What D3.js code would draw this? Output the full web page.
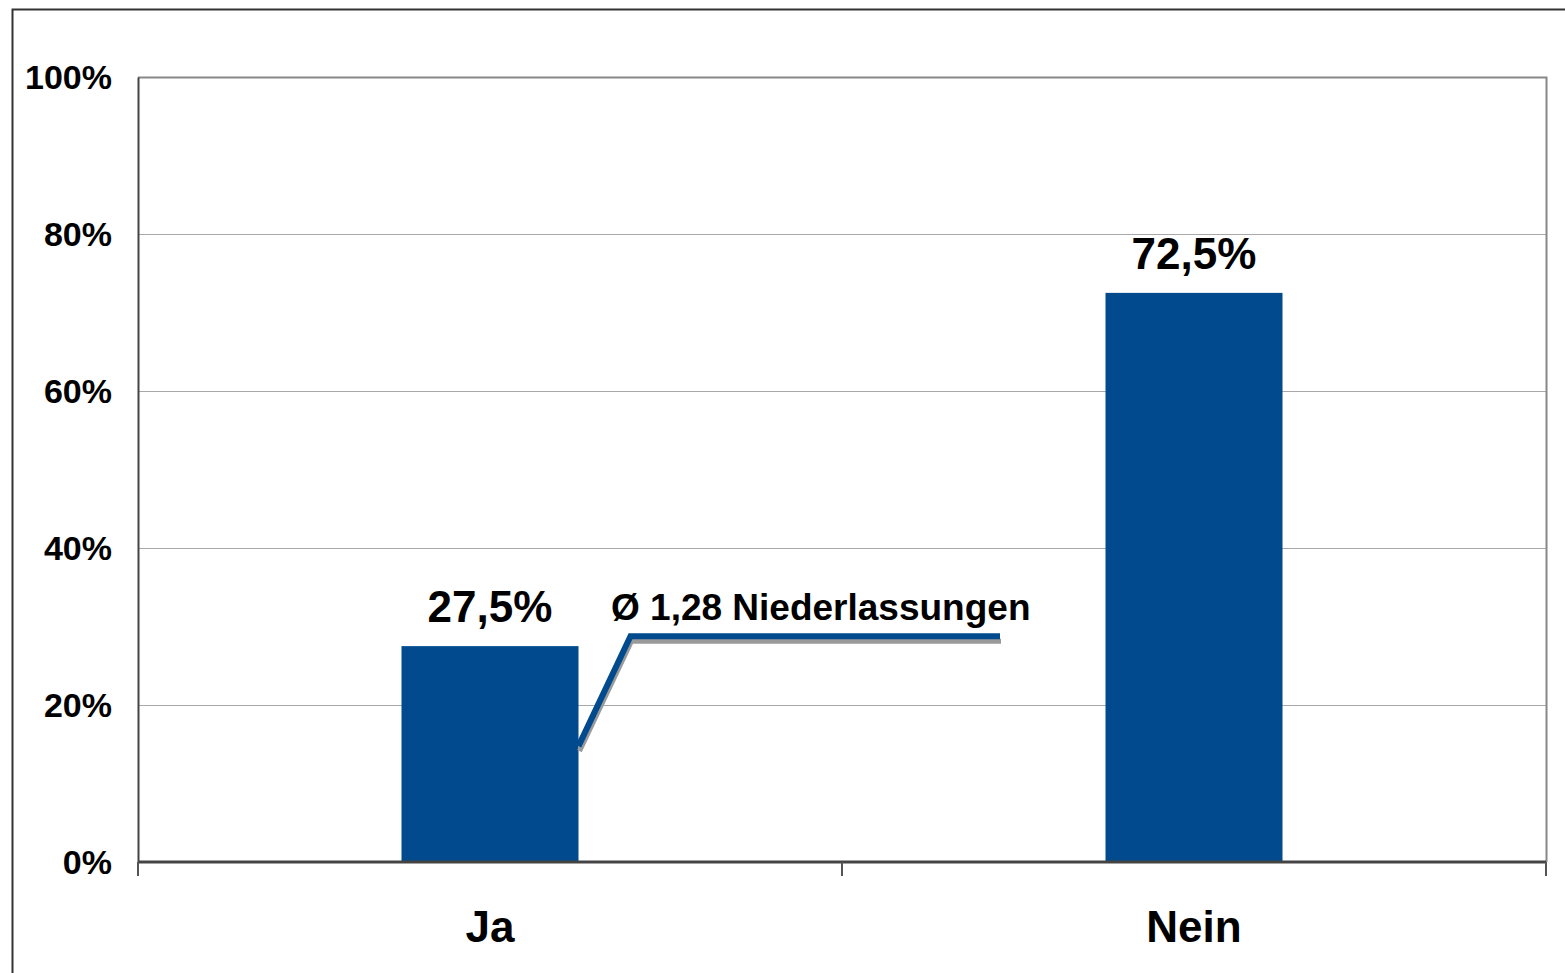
<!DOCTYPE html>
<html>
<head>
<meta charset="utf-8">
<script src="https://cdn.jsdelivr.net/npm/d3@7"></script>
<style>
  body { margin: 0; background: #fff; }
  text { font-family: "Liberation Sans", Arial, sans-serif; font-weight: bold; }
</style>
</head>
<body>
<div id="chart"></div>
<script>
var w = 1565;
var h = 973;

var categories = ["Ja", "Nein"];
var values = [27.5, 72.5];
var valueLabels = ["27,5%", "72,5%"];
var yTicks = [0, 20, 40, 60, 80, 100];
var note = "Ø 1,28 Niederlassungen";

var margin = {left: 138, top: 77, right: 1546, bottom: 862};

var svg = d3.select("#chart")
	.append("svg")
	.attr("width", w)
	.attr("height", h);

// outer frame (only top and left visible)
svg.append("path")
	.attr("d", "M12.5," + h + "V9.5H" + w)
	.attr("fill", "none")
	.attr("stroke", "#333")
	.attr("stroke-width", 2);

var x = d3.scaleBand()
	.domain(categories)
	.range([margin.left, margin.right])
	.paddingInner(0)
	.paddingOuter(0);

var y = d3.scaleLinear()
	.domain([0, 100])
	.range([margin.bottom, margin.top]);

// gridlines
svg.selectAll("line.grid")
	.data(yTicks.slice(1, -1))
	.enter()
	.append("line")
	.attr("class", "grid")
	.attr("x1", margin.left)
	.attr("x2", margin.right)
	.attr("y1", function(d){ return Math.round(y(d)) + 0.5; })
	.attr("y2", function(d){ return Math.round(y(d)) + 0.5; })
	.attr("stroke", "#a8a8a8")
	.attr("stroke-width", 1);

// plot border top and right
svg.append("path")
	.attr("d", "M" + margin.left + "," + (margin.top + 0.5) + "H" + (margin.right + 0.5) + "V" + margin.bottom)
	.attr("fill", "none")
	.attr("stroke", "#888")
	.attr("stroke-width", 2);

// bars
var bw = 177;
svg.selectAll("rect.bar")
	.data(values)
	.enter()
	.append("rect")
	.attr("class", "bar")
	.attr("x", function(d, i){ return x(categories[i]) + x.bandwidth() / 2 - bw / 2; })
	.attr("y", function(d){ return y(d); })
	.attr("width", bw)
	.attr("height", function(d){ return y(0) - y(d); })
	.attr("fill", "#004a8d");

// value labels
svg.selectAll("text.val")
	.data(values)
	.enter()
	.append("text")
	.attr("class", "val")
	.attr("x", function(d, i){ return x(categories[i]) + x.bandwidth() / 2; })
	.attr("y", function(d){ return y(d) - 24; })
	.attr("text-anchor", "middle")
	.attr("font-size", 44)
	.text(function(d, i){ return valueLabels[i]; });

// y axis
var yAxis = d3.axisLeft(y)
	.tickValues(yTicks)
	.tickSize(0)
	.tickPadding(26)
	.tickFormat(function(d){ return d + "%"; });

var ya = svg.append("g")
	.attr("transform", "translate(" + margin.left + ",0)")
	.call(yAxis);
ya.select(".domain").attr("stroke", "#444").attr("stroke-width", 2);
ya.selectAll("text")
	.attr("font-size", 34)
	.attr("font-family", "Liberation Sans, Arial, sans-serif")
	.attr("font-weight", "bold")
	.attr("fill", "#000")
	.attr("dy", "0.35em");

// x axis
var xa = svg.append("g")
	.attr("transform", "translate(0," + margin.bottom + ")");
xa.append("line")
	.attr("x1", margin.left)
	.attr("x2", margin.right)
	.attr("stroke", "#444")
	.attr("stroke-width", 3);
var bounds = [margin.left, x("Nein"), margin.right];
xa.selectAll("line.tick")
	.data(bounds)
	.enter()
	.append("line")
	.attr("class", "tick")
	.attr("x1", function(d){ return d; })
	.attr("x2", function(d){ return d; })
	.attr("y1", 0)
	.attr("y2", 14)
	.attr("stroke", "#555")
	.attr("stroke-width", 2);
xa.selectAll("text")
	.data(categories)
	.enter()
	.append("text")
	.attr("x", function(d){ return x(d) + x.bandwidth() / 2; })
	.attr("y", 80)
	.attr("text-anchor", "middle")
	.attr("font-size", 44)
	.text(function(d){ return d; });

// callout line with shadow
var barRight = x("Ja") + x.bandwidth() / 2 + bw / 2;
var cy = y(values[0]) - 10;
var calloutPts = [[barRight, y(values[0]) + 100], [barRight + 52, cy], [1000, cy]];
var line = d3.line();
svg.append("path")
	.attr("d", line(calloutPts.map(function(p){ return [p[0] + 1, p[1] + 5]; })))
	.attr("fill", "none")
	.attr("stroke", "#9a9a9a")
	.attr("stroke-width", 5);
svg.append("path")
	.attr("d", line(calloutPts))
	.attr("fill", "none")
	.attr("stroke", "#004a8d")
	.attr("stroke-width", 6);

svg.append("text")
	.attr("x", 611)
	.attr("y", 620)
	.attr("font-size", 37)
	.text(note);
</script>
</body>
</html>
